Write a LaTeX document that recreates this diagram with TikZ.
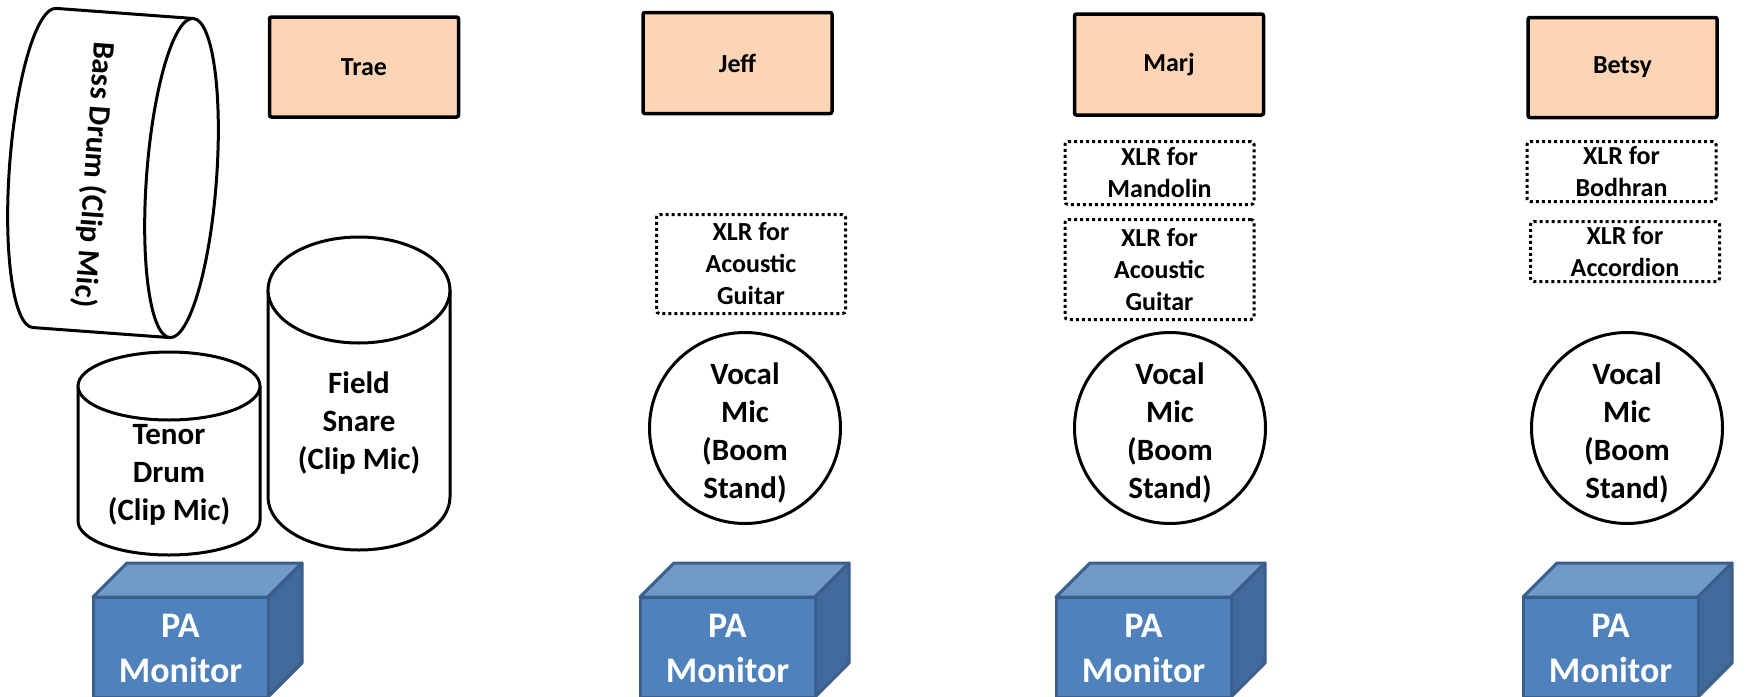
\documentclass[tikz,border=0pt]{standalone}
\usepackage{fontspec}
\setmainfont{Carlito}

\definecolor{namefill}{HTML}{FBD5B5}
\definecolor{monfront}{HTML}{4F81BD}
\definecolor{montop}{HTML}{7199CA}
\definecolor{monside}{HTML}{41699B}
\definecolor{monline}{HTML}{3A5F8B}

\tikzset{
	player/.style={draw,line width=1.75pt,fill=namefill,rounded corners=1pt,minimum width=94.5pt,inner sep=0pt,font=\fontsize{13}{16}\selectfont\bfseries},
	xlr/.style={draw,line width=1.5pt,dash pattern=on 1.5pt off 1.5pt,rounded corners=1.5pt,minimum width=94.5pt,inner sep=0pt,align=center,font=\fontsize{13}{16}\selectfont\bfseries},
	vocal/.style={draw,circle,line width=1.5pt,minimum size=95.5pt,inner sep=0pt,align=center,font=\fontsize{15.5}{19}\selectfont\bfseries},
	drumtext/.style={inner sep=0pt,align=center,font=\fontsize{15.5}{19}\selectfont\bfseries},
	drumline/.style={line width=1.5pt,fill=white},
	monface/.style={line width=1.5pt,draw=monline,line join=round},
	montext/.style={inner sep=0pt,align=center,text=white,font=\fontsize{18}{22.5}\selectfont\bfseries}
}

\newcommand{\drumshell}[3][]
{\begin{scope}[#1]
	\filldraw[drumline] (-91,0) -- (-91,#2) arc[start angle=180,end angle=0,x radius=91,y radius=#3] -- (91,0);
	\filldraw[drumline] (0,0) ellipse[x radius=91,y radius=#3];
\end{scope}
}

\newcommand{\pamonitor}[3][]
{\begin{scope}[#1]
	\filldraw[monface,fill=montop] (0,0) -- (34,-34) -- (209,-34) -- (175,0) -- cycle;
	\filldraw[monface,fill=monside] (175,0) -- (209,-34) -- (209,66) -- (175,100) -- cycle;
	\filldraw[monface,fill=monfront] (0,0) rectangle (175,100);
	\node[montext] (#2) at (87.5,51) {#3};
\end{scope}
}

\newcommand{\boomtext}{\rule{0pt}{16pt}Vocal\\Mic\\(Boom\\Stand)}

\begin{document}
\begin{tikzpicture}[x={(0.5pt,0)},y={(0,-0.5pt)}]
	\useasboundingbox (0,0) rectangle (1750,696);

	\begin{scope}[shift={(113,173)},rotate=-4.2]
	\filldraw[drumline] (68.7,-160) -- (-68.7,-160) arc[start angle=270,end angle=90,x radius=35,y radius=160] -- (68.7,160);
	\filldraw[drumline] (68.7,0) ellipse[x radius=35,y radius=160];
	\end{scope}
	\node[drumtext,anchor=base,rotate=-94.2] (bassdrum) at (85,174) {Bass Drum (Clip Mic)};

	\drumshell[shift={(169,386)}]{135}{34}
	\node[drumtext] (tenordrum) at (169,475) {Tenor\\Drum\\(Clip Mic)};
	\drumshell[shift={(359,290)}]{207}{53}
	\node[drumtext] (snare) at (359,423) {Field\\Snare\\(Clip Mic)};

	\node[player,minimum height=50pt] (trae) at (364,67) {Trae};
	\node[player,minimum height=50.5pt] (jeff) at (737.5,63) {Jeff};
	\node[player,minimum height=50.5pt] (marj) at (1169,64.5) {Marj};
	\node[player,minimum height=50pt] (betsy) at (1622.5,67.5) {Betsy};

	\node[xlr,minimum height=49.5pt] (jeffguitar) at (751,264) {XLR for\\Acoustic\\Guitar};
	\node[xlr,minimum height=31.5pt] (marjmando) at (1159.5,173) {XLR for\\Mandolin};
	\node[xlr,minimum height=50pt] (marjguitar) at (1159.5,269.5) {XLR for\\Acoustic\\Guitar};
	\node[xlr,minimum height=30pt] (betsybod) at (1621.5,171.5) {XLR for\\Bodhran};
	\node[xlr,minimum height=30pt] (betsyacc) at (1625,251.5) {XLR for\\Accordion};

	\node[vocal] (jeffmic) at (745,428) {\boomtext};
	\node[vocal] (marjmic) at (1170,428) {\boomtext};
	\node[vocal] (betsymic) at (1627,428) {\boomtext};

	\pamonitor[shift={(93,597)}]{traemon}{PA\\Monitor}
	\pamonitor[shift={(640,597)}]{jeffmon}{PA\\Monitor}
	\pamonitor[shift={(1056,597)}]{marjmon}{PA\\Monitor}
	\pamonitor[shift={(1523,597)}]{betsymon}{PA\\Monitor}
\end{tikzpicture}
\end{document}
